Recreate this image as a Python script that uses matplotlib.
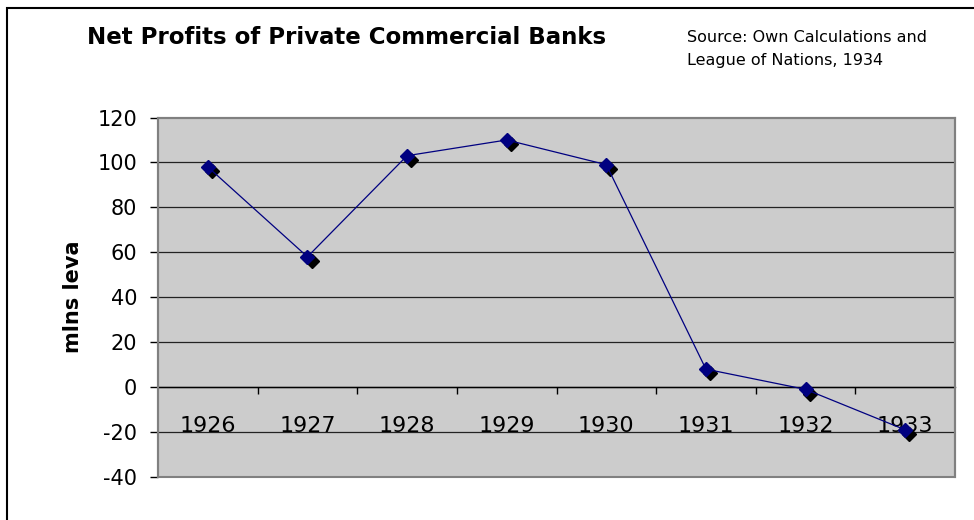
import matplotlib
matplotlib.use('Agg')
import matplotlib.pyplot as plt
import matplotlib.transforms as mtransforms
from matplotlib.patches import Rectangle
import numpy as np

plt.rcParams['axes.unicode_minus'] = False

# net profits, mlns leva
years = ['1926', '1927', '1928', '1929', '1930', '1931', '1932', '1933']
profits = [98, 58, 103, 110, 99, 8, -1, -19]

W, H = 974, 520
fig = plt.figure(figsize=(W / 100, H / 100), dpi=100)
fig.patch.set_facecolor('white')

# chart frame (runs off the right/bottom edge)
fig.patches.append(Rectangle((7 / W, -0.05), 1.05, 1 - 8 / H + 0.05, transform=fig.transFigure,
                             fill=False, edgecolor='black', linewidth=1.5))

ax = fig.add_axes([158 / W, 1 - 477 / H, 797 / W, 359.5 / H])
ax.set_facecolor('#CCCCCC')

x = np.arange(len(years))
ax.set_xlim(-0.5, len(years) - 0.5)
ax.set_ylim(-40, 120)

# gridlines
for v in range(-20, 120, 20):
    ax.axhline(v, color='#222222', linewidth=0.9, zorder=1)

# marker shadow, then line and markers
shadow = mtransforms.offset_copy(ax.transData, fig=fig, x=3, y=-3, units='points')
ax.plot(x, profits, linestyle='none', marker='D', markersize=7, color='black',
        transform=shadow, zorder=3)
ax.plot(x, profits, color='#000080', linewidth=0.9, marker='D', markersize=7,
        markerfacecolor='#000080', markeredgecolor='#000080', zorder=4)

# axes styling
for s in ['top', 'right', 'left']:
    ax.spines[s].set_color('#808080')
    ax.spines[s].set_linewidth(1.5)
ax.spines['bottom'].set_position(('data', 0))
ax.spines['bottom'].set_color('black')
ax.spines['bottom'].set_linewidth(1.0)
ax.add_patch(Rectangle((0, 0), 1, 1, transform=ax.transAxes, fill=False,
                       edgecolor='#808080', linewidth=1.5, clip_on=False, zorder=5))

ax.set_yticks(range(-40, 121, 20))
ax.tick_params(axis='y', direction='out', length=6, width=1, color='black',
               labelsize=15, pad=9)

ax.set_xticks(np.arange(0.5, len(years) - 0.5, 1.0))
ax.set_xticklabels([])
ax.set_xticks(x, minor=True)
ax.set_xticklabels(years, minor=True)
ax.tick_params(axis='x', which='major', direction='out', length=5, width=1, color='black')
ax.tick_params(axis='x', which='minor', length=0, labelsize=16, pad=21)

ax.set_ylabel('mlns leva', fontsize=15, fontweight='bold')
ax.yaxis.set_label_coords(-0.094, 0.502)

fig.text(87 / W, 1 - 38 / H, 'Net Profits of Private Commercial Banks', fontsize=16.5,
         fontweight='bold', ha='left', va='center')
fig.text(687 / W, 1 - 37 / H, 'Source: Own Calculations and', fontsize=11.5,
         ha='left', va='center')
fig.text(687 / W, 1 - 61 / H, 'League of Nations, 1934', fontsize=11.5,
         ha='left', va='center')

plt.savefig('out.png', dpi=100)
plt.close()
